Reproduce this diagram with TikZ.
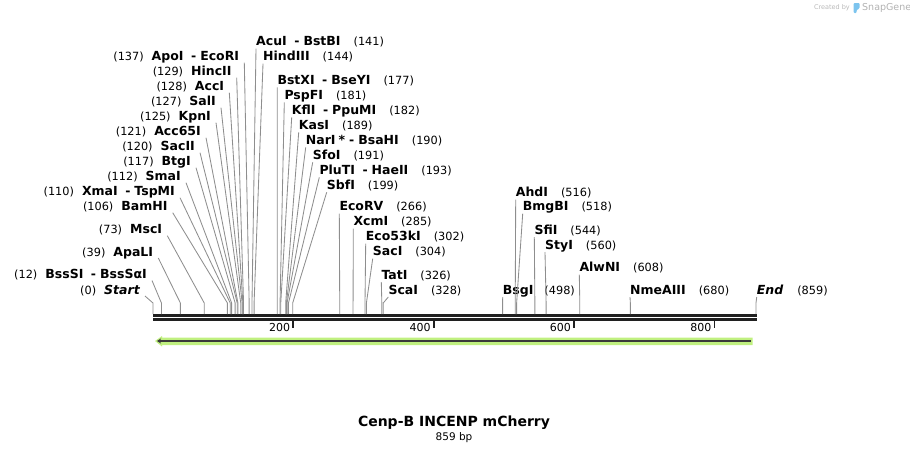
\documentclass[tikz,border=0pt]{standalone}
\usepackage{fontspec}
\setmainfont{DejaVu Sans}
\usetikzlibrary{arrows.meta}
\definecolor{featgreen}{HTML}{C0F080}
\definecolor{featdark}{HTML}{3A3A3A}
\definecolor{rulergray}{HTML}{202020}
\definecolor{sitegray}{HTML}{8E8E8E}
\definecolor{snapblue}{HTML}{7CC4EE}
\newcommand{\bp}[1]{153+0.70198*#1}
\newcommand{\enzsep}{\hspace{7.5pt}-\hspace{4pt}}
\newcommand{\cut}[1]{{\mdseries\fontsize{11.3}{13}\selectfont(#1)}}
\tikzset{enz/.style={inner sep=0pt, font=\fontsize{12.5}{14}\selectfont\bfseries}}
\tikzset{lft/.style={enz, anchor=base east}}
\tikzset{rgt/.style={enz, anchor=base west}}
\tikzset{site/.style={draw=sitegray, line width=0.85pt}}
\tikzset{ruler/.style={draw=rulergray}}
\tikzset{ticklbl/.style={inner sep=0pt, anchor=base east, font=\fontsize{11}{13}\selectfont}}
\begin{document}
\begin{tikzpicture}[x=1pt, y=-1pt]
\useasboundingbox (0,0) rectangle (910,453);

% sites on the sequence
\foreach \p in {0,12,39,73,106,110,112,117,120,121,125,127,128,129,137,141,144,
  177,181,182,189,190,191,193,199,266,285,302,304,326,328,498,516,518,544,560,608,680,859}
  \coordinate (s\p) at ({\bp{\p}},314);
\coordinate (kn) at (0,303);

% ruler
\coordinate (rl) at (153,315.3);
\coordinate (rr) at (756.5,315.3);
\draw[ruler, line width=3pt] (rl) -- (rr);
\draw[ruler, line width=2.6pt] ([yshift=-4.2pt]rl) -- ([yshift=-4.2pt]rr);
\foreach \t in {200,400,600,800} {
  \coordinate (t\t) at ({\bp{\t}},321);
  \draw[ruler, line width=1.8pt] (t\t) -- ++(0,7);
  \node[ticklbl] (n\t) at ([shift={(-3,10)}]t\t) {\t};
}

% enzymes, left side
\node[lft] (apoi) at (239.3,60.7) {\cut{137}\hspace{8pt}ApoI\enzsep EcoRI};
\node[lft] (hincii) at (231.7,75.7) {\cut{129}\hspace{8pt}HincII};
\node[lft] (acci) at (224.3,90.7) {\cut{128}\hspace{8pt}AccI};
\node[lft] (sali) at (216,105.7) {\cut{127}\hspace{8pt}SalI};
\node[lft] (kpni) at (211,120.7) {\cut{125}\hspace{8pt}KpnI};
\node[lft] (accsf) at (201,135.7) {\cut{121}\hspace{8pt}Acc65I};
\node[lft] (sacii) at (195,150.7) {\cut{120}\hspace{8pt}SacII};
\node[lft] (btgi) at (191,165.7) {\cut{117}\hspace{8pt}BtgI};
\node[lft] (smai) at (181,180.7) {\cut{112}\hspace{8pt}SmaI};
\node[lft] (xmai) at (175,195.7) {\cut{110}\hspace{8pt}XmaI\enzsep TspMI};
\node[lft] (bamhi) at (167.7,210.7) {\cut{106}\hspace{8pt}BamHI};
\node[lft] (msci) at (162.3,233.7) {\cut{73}\hspace{8pt}MscI};
\node[lft] (apali) at (153.3,256) {\cut{39}\hspace{8pt}ApaLI};
\node[lft] (bsssi) at (147,278.5) {\cut{12}\hspace{8pt}BssSI\enzsep BssSαI};
\node[lft] (start) at (140,294) {\cut{0}\hspace{8pt}\itshape Start};

\draw[site] ([shift={(5,2)}]apoi.base east) -- (s137 |- kn) -- (s137);
\draw[site] ([shift={(5,2)}]hincii.base east) -- (s129 |- kn) -- (s129);
\draw[site] ([shift={(5,2)}]acci.base east) -- (s128 |- kn) -- (s128);
\draw[site] ([shift={(5,2)}]sali.base east) -- (s127 |- kn) -- (s127);
\draw[site] ([shift={(5,2)}]kpni.base east) -- (s125 |- kn) -- (s125);
\draw[site] ([shift={(5,2)}]accsf.base east) -- (s121 |- kn) -- (s121);
\draw[site] ([shift={(5,2)}]sacii.base east) -- (s120 |- kn) -- (s120);
\draw[site] ([shift={(5,2)}]btgi.base east) -- (s117 |- kn) -- (s117);
\draw[site] ([shift={(5,2)}]smai.base east) -- (s112 |- kn) -- (s112);
\draw[site] ([shift={(5,2)}]xmai.base east) -- (s110 |- kn) -- (s110);
\draw[site] ([shift={(5,2)}]bamhi.base east) -- (s106 |- kn) -- (s106);
\draw[site] ([shift={(5,2)}]msci.base east) -- (s73 |- kn) -- (s73);
\draw[site] ([shift={(5,2)}]apali.base east) -- (s39 |- kn) -- (s39);
\draw[site] ([shift={(5,2)}]bsssi.base east) -- (s12 |- kn) -- (s12);
\draw[site] ([shift={(5,2)}]start.base east) -- (s0 |- kn) -- (s0);

% enzymes, right side
\node[rgt] (acui) at (256,45.7) {AcuI\enzsep BstBI\hspace{13pt}\cut{141}};
\node[rgt] (hindiii) at (263,60.7) {HindIII\hspace{13pt}\cut{144}};
\node[rgt] (bstxi) at (277.3,84.3) {BstXI\enzsep BseYI\hspace{13pt}\cut{177}};
\node[rgt] (pspfi) at (284.3,99.3) {PspFI\hspace{13pt}\cut{181}};
\node[rgt] (kfli) at (291.7,114.3) {KflI\enzsep PpuMI\hspace{13pt}\cut{182}};
\node[rgt] (kasi) at (298.7,129.3) {KasI\hspace{13pt}\cut{189}};
\node[rgt] (nari) at (305.7,144.3) {NarI\hspace{3pt}*\hspace{4pt}-\hspace{4pt}BsaHI\hspace{13pt}\cut{190}};
\node[rgt] (sfoi) at (312.7,159.3) {SfoI\hspace{13pt}\cut{191}};
\node[rgt] (pluti) at (319.3,174.3) {PluTI\enzsep HaeII\hspace{13pt}\cut{193}};
\node[rgt] (sbfi) at (326.7,189.3) {SbfI\hspace{13pt}\cut{199}};
\node[rgt] (ecorv) at (339.3,210.7) {EcoRV\hspace{13pt}\cut{266}};
\node[rgt] (xcmi) at (353.3,225.7) {XcmI\hspace{13pt}\cut{285}};
\node[rgt] (ecofk) at (365.7,240.7) {Eco53kI\hspace{13pt}\cut{302}};
\node[rgt] (saci) at (372.7,255.7) {SacI\hspace{13pt}\cut{304}};
\node[rgt] (tati) at (381.3,279) {TatI\hspace{13pt}\cut{326}};
\node[rgt] (scai) at (388.3,294) {ScaI\hspace{13pt}\cut{328}};
\node[rgt] (bsgi) at (502.7,294) {BsgI\hspace{11pt}\cut{498}};
\node[rgt] (ahdi) at (515.7,196.7) {AhdI\hspace{13pt}\cut{516}};
\node[rgt] (bmgbi) at (522.7,210.7) {BmgBI\hspace{13pt}\cut{518}};
\node[rgt] (sfii) at (534.3,234) {SfiI\hspace{13pt}\cut{544}};
\node[rgt] (styi) at (545,249) {StyI\hspace{13pt}\cut{560}};
\node[rgt] (alwni) at (579.3,271.7) {AlwNI\hspace{13pt}\cut{608}};
\node[rgt] (nmeaiii) at (630,294) {NmeAIII\hspace{13pt}\cut{680}};
\node[rgt] (end) at (756.7,294) {{\itshape End}\hspace{14pt}\cut{859}};

\draw[site] ([shift={(0,3)}]acui.base west) -- (s141 |- kn) -- (s141);
\draw[site] ([shift={(0,3)}]hindiii.base west) -- (s144 |- kn) -- (s144);
\draw[site] ([shift={(0,3)}]bstxi.base west) -- (s177 |- kn) -- (s177);
\draw[site] ([shift={(0,3)}]pspfi.base west) -- (s181 |- kn) -- (s181);
\draw[site] ([shift={(0,3)}]kfli.base west) -- (s182 |- kn) -- (s182);
\draw[site] ([shift={(0,3)}]kasi.base west) -- (s189 |- kn) -- (s189);
\draw[site] ([shift={(0,3)}]nari.base west) -- (s190 |- kn) -- (s190);
\draw[site] ([shift={(0,3)}]sfoi.base west) -- (s191 |- kn) -- (s191);
\draw[site] ([shift={(0,3)}]pluti.base west) -- (s193 |- kn) -- (s193);
\draw[site] ([shift={(0,3)}]sbfi.base west) -- (s199 |- kn) -- (s199);
\draw[site] ([shift={(0,3)}]ecorv.base west) -- (s266 |- kn) -- (s266);
\draw[site] ([shift={(0,3)}]xcmi.base west) -- (s285 |- kn) -- (s285);
\draw[site] ([shift={(0,3)}]ecofk.base west) -- (s302 |- kn) -- (s302);
\draw[site] ([shift={(0,3)}]saci.base west) -- (s304 |- kn) -- (s304);
\draw[site] ([shift={(0,3)}]tati.base west) -- (s326 |- kn) -- (s326);
\draw[site] ([shift={(0,3)}]scai.base west) -- (s328 |- kn) -- (s328);
\draw[site] ([shift={(0,3)}]bsgi.base west) -- (s498 |- kn) -- (s498);
\draw[site] ([shift={(0,3)}]ahdi.base west) -- (s516 |- kn) -- (s516);
\draw[site] ([shift={(0,3)}]bmgbi.base west) -- (s518 |- kn) -- (s518);
\draw[site] ([shift={(0,3)}]sfii.base west) -- (s544 |- kn) -- (s544);
\draw[site] ([shift={(0,3)}]styi.base west) -- (s560 |- kn) -- (s560);
\draw[site] ([shift={(0,3)}]alwni.base west) -- (s608 |- kn) -- (s608);
\draw[site] ([shift={(0,3)}]nmeaiii.base west) -- (s680 |- kn) -- (s680);
\draw[site] ([shift={(0,3)}]end.base west) -- (s859 |- kn) -- (s859);

% feature arrow
\coordinate (fa) at (155,341);
\coordinate (fb) at (752.5,341);
\fill[featgreen] (fa) -- ++(7,-5) -- ++(0,1.5) -- (fb |- 0,337.5) -- (fb |- 0,345) -- (162,345) -- ++(0,1.5) -- cycle;
\draw[featdark, line width=2pt, -{Stealth[length=4pt,width=5pt]}] ([xshift=-2pt]fb) -- ([xshift=2pt]fa);

% title
\node[anchor=base, inner sep=0pt, font=\fontsize{14}{17}\selectfont\bfseries] (title) at (454,426.7) {Cenp-B INCENP mCherry};
\node[anchor=base, inner sep=0pt, font=\fontsize{10.5}{12}\selectfont] (len) at (454,440) {859 bp};

% watermark
\node[anchor=east, inner sep=0pt, text=gray!55, font=\fontsize{6.5}{8}\selectfont] (made) at (850,7.5) {Created by};
\fill[snapblue, rounded corners=1pt] (853.5,3) -- (859.5,3) -- (859.5,8.5) -- (856.5,10) -- (856.5,13) -- (853.5,13) -- cycle;
\node[anchor=west, inner sep=0pt, text=gray!60, font=\fontsize{9.5}{11}\selectfont] (snap) at (862,8) {SnapGene};
\end{tikzpicture}
\end{document}
